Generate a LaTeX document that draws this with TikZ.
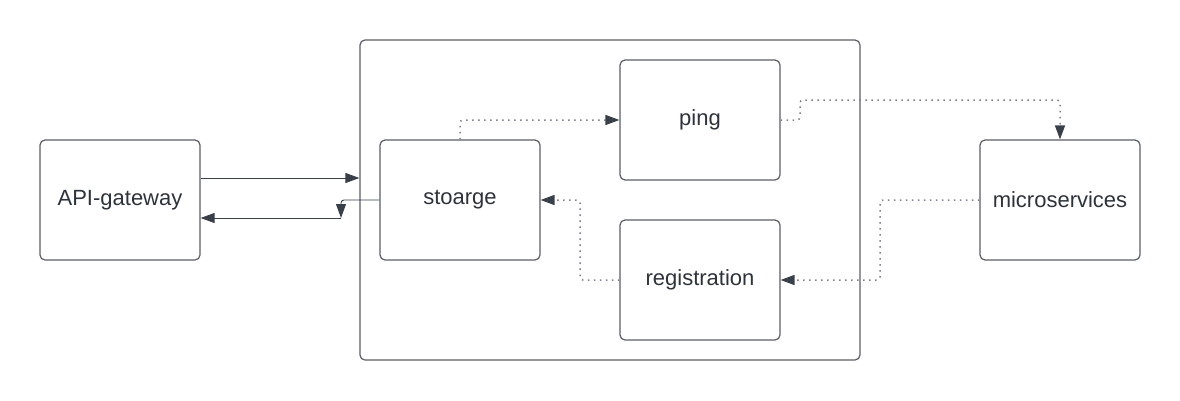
\documentclass[tikz,border=0pt]{standalone}
\usepackage{fontspec}
\setmainfont{Liberation Sans}
\usepackage{tikz}
\usetikzlibrary{arrows.meta}
\definecolor{boxline}{HTML}{5A5E66}
\definecolor{ink}{HTML}{2E333B}
\definecolor{arrowink}{HTML}{3A4049}
\definecolor{dotink}{HTML}{7C8088}

\begin{document}
\begin{tikzpicture}[x=1pt,y=-1pt,
    service/.style={draw=boxline,line width=1.2pt,rounded corners=5pt,
        minimum width=160pt,minimum height=120pt,text=ink,
        font=\fontsize{22}{26}\selectfont},
    link/.style={arrowink,line width=0.9pt,
        -{Triangle[length=14pt,width=10pt]}},
    dotlink/.style={dotink,line width=1.5pt,dash pattern=on 1.5pt off 4.5pt,
        rounded corners=3pt,-{Triangle[length=14pt,width=10pt,color=arrowink]}}]
    \useasboundingbox (0,0) rectangle (1180,400);

    % Container
    \node[draw=boxline,line width=1.2pt,rounded corners=5pt,
        minimum width=500pt,minimum height=320pt] (group) at (610,200) {};

    % Services
    \node[service] (gateway) at (120,200) {API-gateway};
    \node[service] (storage) at (460,200) {stoarge};
    \node[service] (ping) at (700,120) {ping};
    \node[service] (registration) at (700,280) {registration};
    \node[service] (micro) at (1060,200) {microservices};

    % Helper points
    \coordinate (turn) at (341,218);

    % Solid connectors
    \draw[link] (gateway.east |- 0,178) -- (group.west |- 0,178);
    \draw[link,rounded corners=3pt] (storage.west) -| (turn);
    \draw[link] (turn) -- (gateway.east |- turn);

    % Dotted connectors
    \draw[dotlink] (storage.north) -- (460,120) -- (ping.west);
    \draw[dotlink] (ping.east) -- (800,120) -- (800,100) -| (micro.north);
    \draw[dotlink] (micro.west) -- (880,200) |- (registration.east);
    \draw[dotlink] (registration.west) -- (580,280) |- (storage.east);
\end{tikzpicture}
\end{document}
